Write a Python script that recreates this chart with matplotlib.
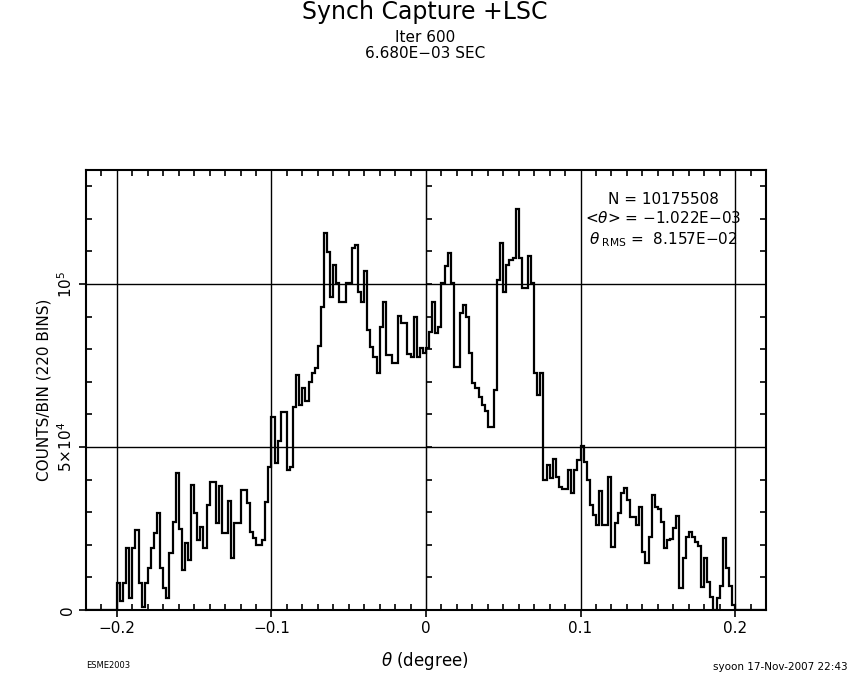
import matplotlib
matplotlib.use("Agg")
import matplotlib.pyplot as plt
import numpy as np
from matplotlib.ticker import MultipleLocator

# histogram of theta, 220 bins over [-0.22, 0.22] (counts)
theta_lo, theta_hi, n_bins = -0.22, 0.22, 220
counts = [
    0, 0, 0, 0, 0, 0, 0, 0, 0, 0,
    8400, 2700, 8400, 19000, 3700, 19000, 24500, 8300, 1000, 8300,
    12900, 19000, 23600, 29700, 12900, 6700, 3700, 17400, 27000, 42000,
    25000, 12300, 20500, 15300, 38300, 29700, 21500, 25500, 19000, 32200,
    39300, 39300, 26700, 38000, 23600, 23600, 33500, 16000, 26700, 26700,
    36800, 36800, 32800, 24000, 22000, 19900, 19900, 21500, 33200, 44000,
    59300, 45000, 52000, 60800, 60800, 42900, 44000, 62300, 72000, 63000,
    68000, 64000, 70000, 72700, 74200, 81000, 93000, 115600, 109800, 96000,
    106000, 100300, 94500, 94500, 100300, 100300, 111000, 112000, 97600, 94600,
    104000, 85900, 80800, 77700, 72700, 86900, 94600, 78200, 78200, 75800,
    75800, 90200, 88000, 88000, 78500, 77700, 90000, 77700, 80300, 78800,
    80300, 85400, 94600, 85000, 86900, 100300, 105500, 109500, 100300, 74600,
    74600, 91000, 93500, 90000, 78800, 69700, 68000, 65300, 62900, 61100,
    56200, 56200, 67500, 101200, 112700, 97600, 106000, 107300, 108000, 123000,
    108000, 98700, 98700, 108600, 100300, 72800, 66000, 72800, 40000, 44500,
    40500, 46300, 40900, 37800, 37100, 37100, 42900, 35800, 42900, 46000,
    50300, 45500, 39900, 32200, 29100, 26100, 36600, 26100, 26100, 40900,
    19400, 26700, 29700, 36000, 37500, 33700, 28600, 28600, 26100, 31700,
    17900, 14400, 22500, 35300, 31700, 31000, 27100, 18900, 21500, 21900,
    25100, 28800, 6700, 16000, 22500, 24000, 22500, 21000, 19600, 7200,
    16000, 8700, 4100, 0, 3700, 7400, 22100, 12900, 7400, 1500,
    0, 0, 0, 0, 0, 0, 0, 0, 0, 0,
]
edges = np.linspace(theta_lo, theta_hi, n_bins + 1)

x_ticks = [-0.2, -0.1, 0, 0.1, 0.2]
x_labels = ['\u22120.2', '\u22120.1', '0', '0.1', '0.2']
y_ticks = [0, 5e4, 1e5]
y_labels = ['0', r'$5{\times}10^4$', r'$10^5$']

fig = plt.figure(figsize=(8.5, 6.8), dpi=100)
ax = fig.add_axes([86/850, 70/680, 680/850, 440/680])

ax.stairs(counts, edges, color='black', lw=1.6)

ax.set_xlim(theta_lo, theta_hi)
ax.set_ylim(0, 1.35e5)
ax.set_xticks(x_ticks)
ax.set_xticklabels(x_labels, fontsize=11)
ax.set_yticks(y_ticks)
ax.set_yticklabels(y_labels, fontsize=11, rotation=90, va='center')
ax.xaxis.set_minor_locator(MultipleLocator(0.01))
ax.yaxis.set_minor_locator(MultipleLocator(1e4))
ax.tick_params(which='major', direction='out', length=5, width=1.2, pad=3)
ax.tick_params(which='minor', direction='in', length=4, width=1.2,
               top=True, right=True)
ax.grid(True, which='major', color='black', lw=1.0)
for s in ax.spines.values():
    s.set_linewidth(1.5)

# small y ticks along the theta=0 line
sec = ax.secondary_yaxis(0.5)
sec.set_yticks([])
sec.yaxis.set_minor_locator(MultipleLocator(1e4))
sec.tick_params(which='minor', direction='out', length=4, width=1.2, labelleft=False)
sec.spines['left'].set_linewidth(1.0)

# labels
fig.text(425/850, 1 - 661/680, r'$\theta$ (degree)', ha='center', va='center', fontsize=12)
fig.text(44/850, 1 - 390/680, 'COUNTS/BIN (220 BINS)', ha='center', va='center',
         rotation=90, fontsize=11)

# title block
fig.text(425/850, 1 - 12/680, 'Synch Capture +LSC', ha='center', va='center', fontsize=17)
fig.text(425/850, 1 - 38/680, 'Iter 600', ha='center', va='center', fontsize=11)
fig.text(425/850, 1 - 54/680, '6.680E\u221203 SEC', ha='center', va='center', fontsize=11)

# statistics
stats_x = (663 - 86) / 680
ax.text(stats_x, (610 - 200) / 440, 'N = 10175508', transform=ax.transAxes,
        ha='center', va='center', fontsize=11)
ax.text(stats_x, (610 - 218) / 440, r'<$\theta$> = $-$1.022E$-$03', transform=ax.transAxes,
        ha='center', va='center', fontsize=11)
ax.text(stats_x, (610 - 240) / 440, r'$\theta_{\ \rm RMS}$ =  8.157E$-$02', transform=ax.transAxes,
        ha='center', va='center', fontsize=11)

# footer
fig.text(86/850, 1 - 666/680, 'ESME2003', ha='left', va='center', fontsize=6)
fig.text(848/850, 1 - 667/680, 'syoon 17-Nov-2007 22:43', ha='right', va='center', fontsize=7.5)

fig.savefig('out.png', dpi=100)
